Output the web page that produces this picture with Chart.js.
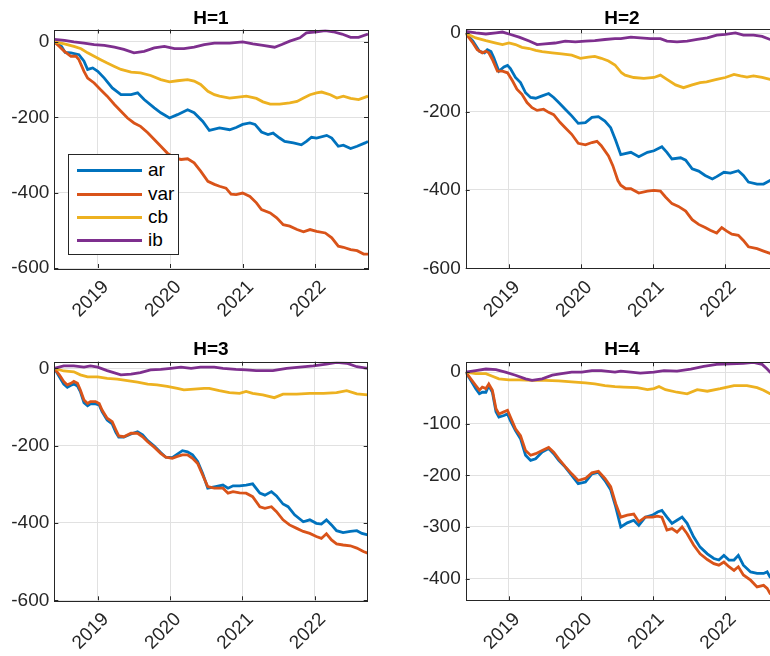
<!DOCTYPE html>
<html>
<head>
<meta charset="utf-8">
<script src="https://cdn.jsdelivr.net/npm/chart.js@4.4.0/dist/chart.umd.min.js"></script>
<style>
html, body { margin: 0; padding: 0; background: #fff; overflow: hidden; }
#page { position: relative; width: 770px; height: 656px; overflow: hidden; background: #fff; }
#page canvas { position: absolute; }
.title { position: absolute; width: 200px; text-align: center; line-height: 22px;
         font: bold 19px "Liberation Sans", Arial, sans-serif; color: #000; }
#legend { position: absolute; left: 68px; top: 154px; width: 111px; height: 101px; box-sizing: border-box;
          border: 1px solid #262626; background: #fff; }
#legend .sample { position: absolute; left: 8px; width: 65px; height: 3px; }
#legend .label { position: absolute; left: 79px; line-height: 22px;
                 font: 19px "Liberation Sans", Arial, sans-serif; color: #000; }
</style>
</head>
<body>
<div id="page"></div>
<script>
// axis values
const xTicks = [2019, 2020, 2021, 2022];
const yTicksMain = [-600, -400, -200, 0];
const yTicksH4 = [-400, -300, -200, -100, 0];
const seriesNames = ['ar', 'var', 'cb', 'ib'];
const panelTitles = ['H=1', 'H=2', 'H=3', 'H=4'];

// [year, value]
const h1_ar = [[2018.40,0],[2018.50,-12],[2018.55,-28],[2018.63,-29],[2018.74,-34],[2018.81,-51],[2018.86,-73],[2018.93,-69],[2019.00,-78],[2019.09,-96],[2019.20,-122],[2019.32,-140],[2019.46,-140],[2019.55,-135],[2019.64,-153],[2019.78,-175],[2019.87,-188],[2019.99,-202],[2020.10,-193],[2020.24,-180],[2020.33,-188],[2020.45,-211],[2020.54,-235],[2020.68,-228],[2020.82,-233],[2020.91,-227],[2021.00,-219],[2021.10,-215],[2021.17,-219],[2021.26,-239],[2021.35,-246],[2021.42,-242],[2021.51,-255],[2021.58,-264],[2021.70,-268],[2021.81,-273],[2021.88,-264],[2021.95,-253],[2022.02,-255],[2022.16,-248],[2022.23,-255],[2022.32,-277],[2022.39,-274],[2022.49,-283],[2022.58,-277],[2022.69,-268],[2022.73,-264]];
const h1_var = [[2018.40,0],[2018.47,-12],[2018.54,-25],[2018.63,-38],[2018.70,-38],[2018.74,-47],[2018.81,-78],[2018.86,-96],[2018.95,-109],[2019.04,-127],[2019.13,-144],[2019.23,-166],[2019.32,-184],[2019.41,-202],[2019.50,-215],[2019.59,-224],[2019.69,-241],[2019.78,-259],[2019.87,-277],[2019.96,-295],[2020.06,-308],[2020.15,-312],[2020.24,-310],[2020.33,-321],[2020.42,-343],[2020.52,-370],[2020.61,-378],[2020.68,-383],[2020.77,-388],[2020.84,-404],[2020.91,-405],[2021.00,-401],[2021.10,-410],[2021.19,-427],[2021.26,-445],[2021.38,-454],[2021.47,-467],[2021.56,-485],[2021.65,-489],[2021.75,-498],[2021.84,-504],[2021.93,-498],[2022.02,-503],[2022.14,-507],[2022.23,-520],[2022.32,-542],[2022.39,-545],[2022.49,-551],[2022.58,-554],[2022.67,-563],[2022.73,-563]];
const h1_cb = [[2018.40,0],[2018.54,-5],[2018.67,-12],[2018.77,-18],[2018.86,-29],[2018.95,-38],[2019.04,-47],[2019.13,-56],[2019.23,-65],[2019.32,-73],[2019.46,-80],[2019.59,-82],[2019.73,-89],[2019.87,-100],[2019.99,-106],[2020.10,-103],[2020.24,-100],[2020.33,-104],[2020.42,-113],[2020.52,-131],[2020.61,-140],[2020.68,-144],[2020.82,-149],[2020.91,-147],[2021.05,-144],[2021.19,-150],[2021.28,-159],[2021.38,-165],[2021.51,-165],[2021.65,-162],[2021.75,-158],[2021.84,-149],[2021.93,-140],[2022.02,-135],[2022.09,-133],[2022.21,-140],[2022.30,-149],[2022.39,-144],[2022.49,-150],[2022.60,-153],[2022.73,-144]];
const h1_ib = [[2018.40,7],[2018.54,4],[2018.67,0],[2018.81,-3],[2018.95,-7],[2019.09,-9],[2019.23,-14],[2019.36,-20],[2019.50,-29],[2019.64,-25],[2019.78,-16],[2019.92,-12],[2020.06,-18],[2020.19,-18],[2020.33,-14],[2020.47,-7],[2020.61,-3],[2020.68,-3],[2020.82,-3],[2021.00,0],[2021.14,-5],[2021.28,-9],[2021.44,-14],[2021.54,-7],[2021.65,2],[2021.79,11],[2021.88,24],[2022.02,27],[2022.14,30],[2022.25,27],[2022.37,21],[2022.49,12],[2022.60,12],[2022.73,21]];

const h2_ar = [[2018.40,0],[2018.50,-20],[2018.59,-46],[2018.66,-50],[2018.70,-42],[2018.75,-47],[2018.79,-63],[2018.86,-97],[2018.93,-86],[2018.98,-82],[2019.02,-90],[2019.09,-113],[2019.16,-126],[2019.23,-152],[2019.30,-164],[2019.37,-166],[2019.46,-160],[2019.55,-154],[2019.62,-164],[2019.69,-177],[2019.78,-194],[2019.87,-211],[2019.96,-230],[2020.06,-228],[2020.15,-215],[2020.24,-213],[2020.33,-224],[2020.41,-241],[2020.48,-274],[2020.55,-310],[2020.69,-304],[2020.80,-315],[2020.92,-304],[2021.01,-300],[2021.12,-290],[2021.19,-304],[2021.26,-321],[2021.38,-318],[2021.45,-324],[2021.54,-346],[2021.63,-352],[2021.72,-363],[2021.82,-372],[2021.88,-366],[2021.98,-355],[2022.07,-357],[2022.18,-351],[2022.25,-363],[2022.32,-380],[2022.44,-385],[2022.53,-385],[2022.62,-376],[2022.73,-380]];
const h2_var = [[2018.40,0],[2018.50,-25],[2018.56,-42],[2018.63,-50],[2018.68,-46],[2018.72,-50],[2018.77,-67],[2018.84,-97],[2018.91,-97],[2018.98,-101],[2019.05,-122],[2019.11,-143],[2019.18,-156],[2019.25,-177],[2019.32,-190],[2019.39,-197],[2019.48,-194],[2019.55,-202],[2019.62,-208],[2019.71,-228],[2019.78,-241],[2019.87,-258],[2019.96,-281],[2020.06,-285],[2020.15,-279],[2020.22,-276],[2020.28,-287],[2020.38,-313],[2020.44,-338],[2020.51,-376],[2020.55,-388],[2020.62,-397],[2020.69,-397],[2020.80,-408],[2020.92,-403],[2021.01,-401],[2021.10,-403],[2021.17,-418],[2021.26,-435],[2021.35,-442],[2021.45,-454],[2021.54,-476],[2021.63,-488],[2021.72,-496],[2021.79,-503],[2021.88,-510],[2021.95,-496],[2022.02,-505],[2022.09,-513],[2022.18,-516],[2022.25,-529],[2022.32,-545],[2022.44,-550],[2022.53,-556],[2022.62,-562],[2022.73,-566]];
const h2_cb = [[2018.40,0],[2018.54,-12],[2018.68,-19],[2018.82,-25],[2018.91,-29],[2019.00,-25],[2019.09,-29],[2019.18,-36],[2019.28,-39],[2019.37,-44],[2019.46,-47],[2019.60,-50],[2019.73,-53],[2019.87,-56],[2019.99,-64],[2020.10,-61],[2020.19,-59],[2020.28,-64],[2020.38,-71],[2020.47,-81],[2020.56,-101],[2020.61,-107],[2020.73,-113],[2020.87,-115],[2021.01,-113],[2021.10,-107],[2021.19,-118],[2021.31,-132],[2021.42,-139],[2021.54,-132],[2021.65,-126],[2021.74,-124],[2021.88,-118],[2022.00,-113],[2022.12,-105],[2022.21,-109],[2022.30,-112],[2022.39,-109],[2022.51,-113],[2022.62,-118],[2022.73,-120]];
const h2_ib = [[2018.40,5],[2018.54,1],[2018.68,-2],[2018.82,1],[2018.91,3],[2019.00,-2],[2019.14,-10],[2019.28,-20],[2019.39,-29],[2019.50,-27],[2019.64,-25],[2019.78,-20],[2019.92,-22],[2020.06,-20],[2020.19,-19],[2020.33,-16],[2020.47,-14],[2020.55,-14],[2020.69,-10],[2020.82,-12],[2020.96,-14],[2021.10,-14],[2021.19,-20],[2021.33,-22],[2021.47,-20],[2021.61,-16],[2021.75,-12],[2021.88,-5],[2022.00,-3],[2022.14,1],[2022.25,-5],[2022.39,-5],[2022.51,-8],[2022.62,-16],[2022.73,-18]];

const h3_ar = [[2018.40,0],[2018.47,-22],[2018.53,-41],[2018.58,-49],[2018.63,-44],[2018.67,-41],[2018.72,-46],[2018.76,-60],[2018.81,-89],[2018.86,-97],[2018.90,-92],[2018.97,-92],[2019.02,-95],[2019.06,-112],[2019.13,-134],[2019.20,-144],[2019.25,-166],[2019.29,-178],[2019.36,-178],[2019.46,-170],[2019.55,-164],[2019.62,-172],[2019.69,-187],[2019.78,-201],[2019.87,-218],[2019.94,-230],[2020.03,-231],[2020.10,-222],[2020.17,-213],[2020.24,-216],[2020.31,-224],[2020.38,-241],[2020.45,-272],[2020.52,-310],[2020.63,-306],[2020.73,-302],[2020.80,-310],[2020.87,-304],[2020.96,-304],[2021.05,-302],[2021.14,-299],[2021.24,-323],[2021.31,-328],[2021.40,-319],[2021.47,-330],[2021.56,-351],[2021.63,-358],[2021.72,-379],[2021.84,-397],[2021.93,-392],[2022.02,-401],[2022.09,-403],[2022.16,-392],[2022.23,-405],[2022.30,-420],[2022.39,-425],[2022.49,-422],[2022.58,-420],[2022.65,-427],[2022.73,-431]];
const h3_var = [[2018.40,0],[2018.47,-17],[2018.53,-34],[2018.58,-43],[2018.63,-39],[2018.67,-34],[2018.72,-39],[2018.76,-56],[2018.81,-82],[2018.86,-91],[2018.90,-86],[2018.97,-86],[2019.02,-91],[2019.06,-108],[2019.13,-129],[2019.20,-138],[2019.25,-159],[2019.29,-175],[2019.36,-177],[2019.46,-168],[2019.55,-168],[2019.62,-177],[2019.69,-190],[2019.78,-204],[2019.87,-220],[2019.94,-230],[2020.03,-233],[2020.10,-228],[2020.17,-224],[2020.24,-224],[2020.31,-233],[2020.38,-246],[2020.45,-276],[2020.52,-306],[2020.61,-310],[2020.73,-310],[2020.80,-323],[2020.87,-319],[2020.96,-322],[2021.05,-323],[2021.14,-332],[2021.24,-358],[2021.31,-362],[2021.40,-358],[2021.47,-371],[2021.56,-392],[2021.65,-405],[2021.75,-414],[2021.84,-422],[2021.93,-427],[2022.02,-435],[2022.09,-440],[2022.16,-428],[2022.23,-444],[2022.30,-454],[2022.39,-457],[2022.49,-459],[2022.58,-465],[2022.67,-474],[2022.73,-478]];
const h3_cb = [[2018.40,0],[2018.53,-7],[2018.67,-9],[2018.76,-17],[2018.86,-22],[2019.00,-22],[2019.13,-26],[2019.27,-28],[2019.41,-32],[2019.55,-36],[2019.69,-41],[2019.82,-43],[2019.96,-47],[2020.10,-52],[2020.19,-56],[2020.33,-54],[2020.47,-52],[2020.54,-52],[2020.68,-58],[2020.82,-63],[2020.96,-65],[2021.05,-60],[2021.14,-65],[2021.28,-69],[2021.44,-76],[2021.56,-67],[2021.75,-67],[2021.93,-65],[2022.12,-65],[2022.30,-63],[2022.44,-58],[2022.58,-66],[2022.73,-69]];
const h3_ib = [[2018.40,0],[2018.53,6],[2018.67,6],[2018.81,3],[2018.90,6],[2019.00,3],[2019.13,-6],[2019.32,-17],[2019.46,-15],[2019.59,-11],[2019.73,-4],[2019.87,-3],[2020.01,0],[2020.15,3],[2020.29,0],[2020.42,3],[2020.61,3],[2020.73,0],[2020.91,-3],[2021.05,-4],[2021.19,-6],[2021.42,-6],[2021.61,0],[2021.79,3],[2021.98,6],[2022.16,11],[2022.30,15],[2022.44,13],[2022.58,4],[2022.73,0]];

const h4_ar = [[2018.40,0],[2018.47,-16],[2018.54,-32],[2018.59,-42],[2018.63,-39],[2018.68,-39],[2018.72,-26],[2018.77,-39],[2018.82,-77],[2018.86,-87],[2018.93,-84],[2018.98,-81],[2019.02,-94],[2019.09,-113],[2019.16,-129],[2019.23,-161],[2019.30,-171],[2019.37,-168],[2019.46,-155],[2019.55,-148],[2019.62,-158],[2019.69,-171],[2019.78,-184],[2019.87,-200],[2019.96,-216],[2020.06,-213],[2020.15,-197],[2020.24,-194],[2020.33,-210],[2020.41,-228],[2020.48,-261],[2020.55,-300],[2020.64,-292],[2020.73,-287],[2020.80,-297],[2020.89,-281],[2020.99,-277],[2021.06,-271],[2021.12,-268],[2021.19,-281],[2021.26,-293],[2021.33,-287],[2021.40,-281],[2021.47,-293],[2021.56,-319],[2021.65,-339],[2021.75,-352],[2021.84,-361],[2021.91,-364],[2021.98,-355],[2022.05,-364],[2022.12,-364],[2022.18,-355],[2022.25,-374],[2022.35,-387],[2022.44,-390],[2022.53,-390],[2022.58,-387],[2022.62,-397],[2022.73,-400]];
const h4_var = [[2018.40,0],[2018.47,-13],[2018.54,-26],[2018.59,-35],[2018.63,-29],[2018.68,-32],[2018.72,-23],[2018.77,-35],[2018.82,-71],[2018.86,-81],[2018.93,-77],[2018.98,-74],[2019.02,-87],[2019.09,-110],[2019.16,-123],[2019.23,-152],[2019.30,-161],[2019.37,-158],[2019.46,-152],[2019.55,-146],[2019.62,-155],[2019.69,-168],[2019.78,-183],[2019.87,-197],[2019.96,-210],[2020.06,-206],[2020.15,-195],[2020.24,-192],[2020.33,-206],[2020.41,-222],[2020.48,-255],[2020.55,-281],[2020.64,-277],[2020.73,-275],[2020.80,-290],[2020.89,-281],[2020.99,-281],[2021.06,-279],[2021.12,-281],[2021.19,-306],[2021.26,-303],[2021.33,-310],[2021.40,-300],[2021.47,-313],[2021.56,-335],[2021.65,-352],[2021.75,-363],[2021.84,-371],[2021.91,-374],[2021.98,-368],[2022.05,-377],[2022.12,-384],[2022.18,-377],[2022.25,-393],[2022.35,-403],[2022.44,-416],[2022.53,-413],[2022.58,-419],[2022.62,-429],[2022.73,-432]];
const h4_cb = [[2018.40,0],[2018.54,-3],[2018.68,-3],[2018.77,-8],[2018.86,-13],[2019.00,-15],[2019.14,-15],[2019.32,-16],[2019.50,-16],[2019.69,-17],[2019.87,-19],[2020.06,-21],[2020.19,-23],[2020.33,-26],[2020.47,-28],[2020.59,-29],[2020.78,-30],[2020.92,-34],[2021.01,-32],[2021.08,-28],[2021.17,-34],[2021.33,-39],[2021.47,-42],[2021.61,-34],[2021.75,-37],[2021.93,-32],[2022.12,-26],[2022.30,-26],[2022.44,-30],[2022.53,-35],[2022.62,-42],[2022.73,-46]];
const h4_ib = [[2018.40,0],[2018.54,3],[2018.68,6],[2018.82,5],[2018.95,0],[2019.09,-6],[2019.23,-13],[2019.32,-16],[2019.46,-13],[2019.60,-6],[2019.73,-3],[2019.87,0],[2020.01,0],[2020.15,3],[2020.28,3],[2020.47,0],[2020.55,2],[2020.69,0],[2020.82,-2],[2021.01,0],[2021.15,3],[2021.33,2],[2021.52,6],[2021.70,11],[2021.88,15],[2022.07,16],[2022.25,17],[2022.39,19],[2022.51,15],[2022.58,6],[2022.62,0],[2022.73,-8]];

const seriesColors = ['#0072BD', '#D95319', '#EDB120', '#7E2F8E'];
const fontFamily = '"Liberation Sans", Arial, Helvetica, sans-serif';

// panel boxes on the page; right column runs past the window edge like the original
const panels = [
    { left: 0,   top: 0,   width: 390, height: 325, padTop: 29.5, padRight: 22,   yWidth: 54.3, xHeight: 57,   yMin: -600, yMax: 33, yTicks: yTicksMain, series: [h1_ar, h1_var, h1_cb, h1_ib], titleX: 211, titleY: 18 },
    { left: 390, top: 0,   width: 410, height: 325, padTop: 29.3, padRight: 22,   yWidth: 75.7, xHeight: 56.7, yMin: -600, yMax: 10, yTicks: yTicksMain, series: [h2_ar, h2_var, h2_cb, h2_ib], titleX: 622, titleY: 18 },
    { left: 0,   top: 325, width: 390, height: 331, padTop: 36.7, padRight: 22.3, yWidth: 54.3, xHeight: 55.7, yMin: -600, yMax: 17, yTicks: yTicksMain, series: [h3_ar, h3_var, h3_cb, h3_ib], titleX: 211, titleY: 349 },
    { left: 390, top: 325, width: 410, height: 331, padTop: 37.3, padRight: 22,   yWidth: 75.7, xHeight: 55.7, yMin: -442, yMax: 19, yTicks: yTicksH4,   series: [h4_ar, h4_var, h4_cb, h4_ib], titleX: 622, titleY: 349 }
];

// matlab style box with inward ticks
const boxPlugin = {
    id: 'box',
    afterDraw(chart) {
        const { ctx, chartArea: a, scales } = chart;
        const tick = 4;
        ctx.save();
        ctx.strokeStyle = '#262626';
        ctx.lineWidth = 1;
        ctx.beginPath();
        scales.x.ticks.forEach(t => {
            const px = Math.round(scales.x.getPixelForValue(t.value)) + 0.5;
            ctx.moveTo(px, a.bottom); ctx.lineTo(px, a.bottom - tick);
            ctx.moveTo(px, a.top); ctx.lineTo(px, a.top + tick);
        });
        scales.y.ticks.forEach(t => {
            const py = Math.round(scales.y.getPixelForValue(t.value)) + 0.5;
            ctx.moveTo(a.left, py); ctx.lineTo(a.left + tick, py);
            ctx.moveTo(a.right, py); ctx.lineTo(a.right - tick, py);
        });
        ctx.stroke();
        ctx.strokeRect(Math.round(a.left) + 0.5, Math.round(a.top) + 0.5,
            Math.round(a.right - a.left), Math.round(a.bottom - a.top));
        ctx.restore();
    }
};

function makePanel(p, idx) {
    const page = document.getElementById('page');
    const canvas = document.createElement('canvas');
    canvas.width = p.width;
    canvas.height = p.height;
    canvas.style.left = p.left + 'px';
    canvas.style.top = p.top + 'px';
    page.appendChild(canvas);

    const title = document.createElement('div');
    title.className = 'title';
    title.textContent = panelTitles[idx];
    title.style.left = (p.titleX - 100) + 'px';
    title.style.top = (p.titleY - 11) + 'px';
    page.appendChild(title);

    new Chart(canvas.getContext('2d'), {
        type: 'line',
        data: {
            datasets: p.series.map((pts, i) => ({
                label: seriesNames[i],
                data: pts,
                borderColor: seriesColors[i],
                borderWidth: 2.8,
                pointRadius: 0,
                tension: 0,
                order: 4 - i
            }))
        },
        options: {
            responsive: false,
            animation: false,
            layout: { padding: { left: 0, top: p.padTop, right: p.padRight, bottom: 0 } },
            plugins: { legend: { display: false }, tooltip: { enabled: false } },
            scales: {
                x: {
                    type: 'linear',
                    min: 2018.40,
                    max: 2022.73,
                    afterBuildTicks: s => { s.ticks = xTicks.map(v => ({ value: v })); },
                    afterFit: s => { s.height = p.xHeight; },
                    grid: { color: '#e1e1e1', drawTicks: false },
                    border: { display: false },
                    ticks: {
                        minRotation: 45, maxRotation: 45, padding: 8, labelOffset: 8,
                        color: '#262626', font: { family: fontFamily, size: 19 },
                        callback: v => String(v)
                    }
                },
                y: {
                    min: p.yMin,
                    max: p.yMax,
                    afterBuildTicks: s => { s.ticks = p.yTicks.map(v => ({ value: v })); },
                    afterFit: s => { s.width = p.yWidth; },
                    grid: { color: '#e1e1e1', drawTicks: false },
                    border: { display: false },
                    ticks: {
                        padding: 5,
                        color: '#262626', font: { family: fontFamily, size: 19 },
                        callback: v => String(v)
                    }
                }
            }
        },
        plugins: [boxPlugin]
    });
}

function makeLegend() {
    const page = document.getElementById('page');
    const box = document.createElement('div');
    box.id = 'legend';
    const rows = [16, 40, 63, 86];
    seriesNames.forEach((name, i) => {
        const s = document.createElement('div');
        s.className = 'sample';
        s.style.top = (rows[i] - 2.5) + 'px';
        s.style.background = seriesColors[i];
        box.appendChild(s);
        const l = document.createElement('div');
        l.className = 'label';
        l.style.top = (rows[i] - 12) + 'px';
        l.textContent = name;
        box.appendChild(l);
    });
    page.appendChild(box);
}

document.addEventListener('DOMContentLoaded', () => {
    panels.forEach(makePanel);
    makeLegend();
});
</script>
</body>
</html>
